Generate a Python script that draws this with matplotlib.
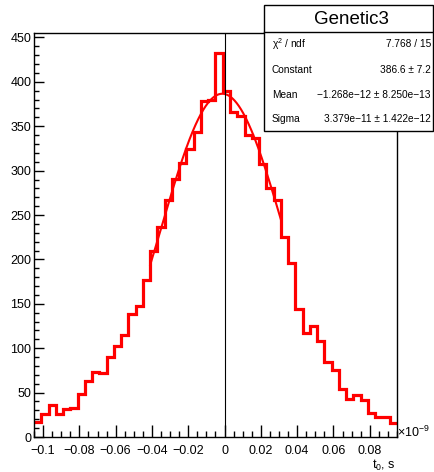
import numpy as np
import matplotlib
matplotlib.use("Agg")
import matplotlib.pyplot as plt
from matplotlib.patches import Rectangle
from matplotlib.lines import Line2D

plt.rcParams['font.family'] = ['Liberation Sans', 'DejaVu Sans']
plt.rcParams['mathtext.fontset'] = 'custom'
plt.rcParams['mathtext.rm'] = 'Liberation Sans'
plt.rcParams['mathtext.it'] = 'Liberation Sans:italic'

# histogram: t0 in units of 1e-9 s, 50 bins from -0.105 to 0.095
x_min, x_max, n_bins = -0.105, 0.095, 50
counts = [17, 26, 36, 26, 31, 33, 48, 63, 73, 72,
          90, 102, 115, 139, 148, 177, 210, 236, 267, 291,
          309, 324, 344, 378, 379, 432, 390, 366, 362, 340,
          337, 308, 280, 267, 225, 196, 144, 117, 125, 108,
          85, 75, 54, 43, 47, 42, 27, 22, 22, 16]

# gaussian fit result (stats box)
fit_const = 386.6
fit_mean = -1.268e-12 * 1e9
fit_sigma = 3.379e-11 * 1e9
fit_range = (-0.041, 0.031)

stat_labels = ["\u03c7$^{2}$ / ndf", "Constant", "Mean", "Sigma"]
stat_values = ["7.768 / 15", "386.6 \u00b1 7.2",
               "\u22121.268e\u221212 \u00b1 8.250e\u221213",
               "3.379e\u221211 \u00b1 1.422e\u221212"]

xticks = [-0.1, -0.08, -0.06, -0.04, -0.02, 0, 0.02, 0.04, 0.06, 0.08]
xtick_labels = ["\u22120.1", "\u22120.08", "\u22120.06", "\u22120.04", "\u22120.02",
                "0", "0.02", "0.04", "0.06", "0.08"]
yticks = [0, 50, 100, 150, 200, 250, 300, 350, 400, 450]

W, H = 435, 472
fig = plt.figure(figsize=(W / 100, H / 100), dpi=100)
ax = fig.add_axes([34 / W, 1 - 437 / H, (397 - 34) / W, (437 - 33) / H])

edges = np.linspace(x_min, x_max, n_bins + 1)
ax.stairs(counts, edges, baseline=None, color='#ff0000', linewidth=2.3)

xf = np.linspace(fit_range[0], fit_range[1], 300)
yf = fit_const * np.exp(-0.5 * ((xf - fit_mean) / fit_sigma) ** 2)
ax.plot(xf, yf, color='#ff0000', linewidth=1.5)

ax.axvline(0, color='black', linewidth=0.8)

ax.set_xlim(x_min, x_max)
ax.set_ylim(0, 455)
ax.set_xticks(xticks)
ax.set_xticklabels(xtick_labels)
ax.set_xticks(np.arange(-0.105, 0.0951, 0.005), minor=True)
ax.set_yticks(yticks)
ax.set_yticks(np.arange(0, 455, 10), minor=True)

for s in ax.spines.values():
    s.set_linewidth(1.0)
ax.tick_params(which='both', direction='in', top=False, right=False, width=1.0, labelsize=9)
ax.tick_params(axis='x', which='major', length=8.6, pad=5.5)
ax.tick_params(axis='x', which='minor', length=4.3)
ax.tick_params(axis='y', which='major', length=7.2, pad=2)
ax.tick_params(axis='y', which='minor', length=3.6)

def fx(x):
    return x / W

def fy(y):
    return 1 - y / H

fig.text(fx(397), fy(437), r"$\times10^{-9}$", fontsize=9, ha='left', va='baseline')
fig.text(fx(396), fy(469), r"t$_{0}$, s", fontsize=9, ha='right', va='baseline')

# stats box
box = Rectangle((fx(264.5), fy(131)), (433 - 264.5) / W, (131 - 5) / H,
                transform=fig.transFigure, facecolor='white', edgecolor='black',
                linewidth=1.0, zorder=5)
fig.patches.append(box)
fig.add_artist(Line2D([fx(264.5), fx(433)], [fy(32), fy(32)], color='black',
                      linewidth=1.0, zorder=6, transform=fig.transFigure))
fig.text(fx(351), fy(19), "Genetic3", fontsize=13.5, ha='center', va='center', zorder=7)

row_y = [44, 70, 95, 119]
for lab, val, y in zip(stat_labels, stat_values, row_y):
    fig.text(fx(272), fy(y), lab, fontsize=7.3, ha='left', va='center', zorder=7)
    fig.text(fx(431), fy(y), val, fontsize=7.3, ha='right', va='center', zorder=7)

fig.savefig("out.png", dpi=100)
